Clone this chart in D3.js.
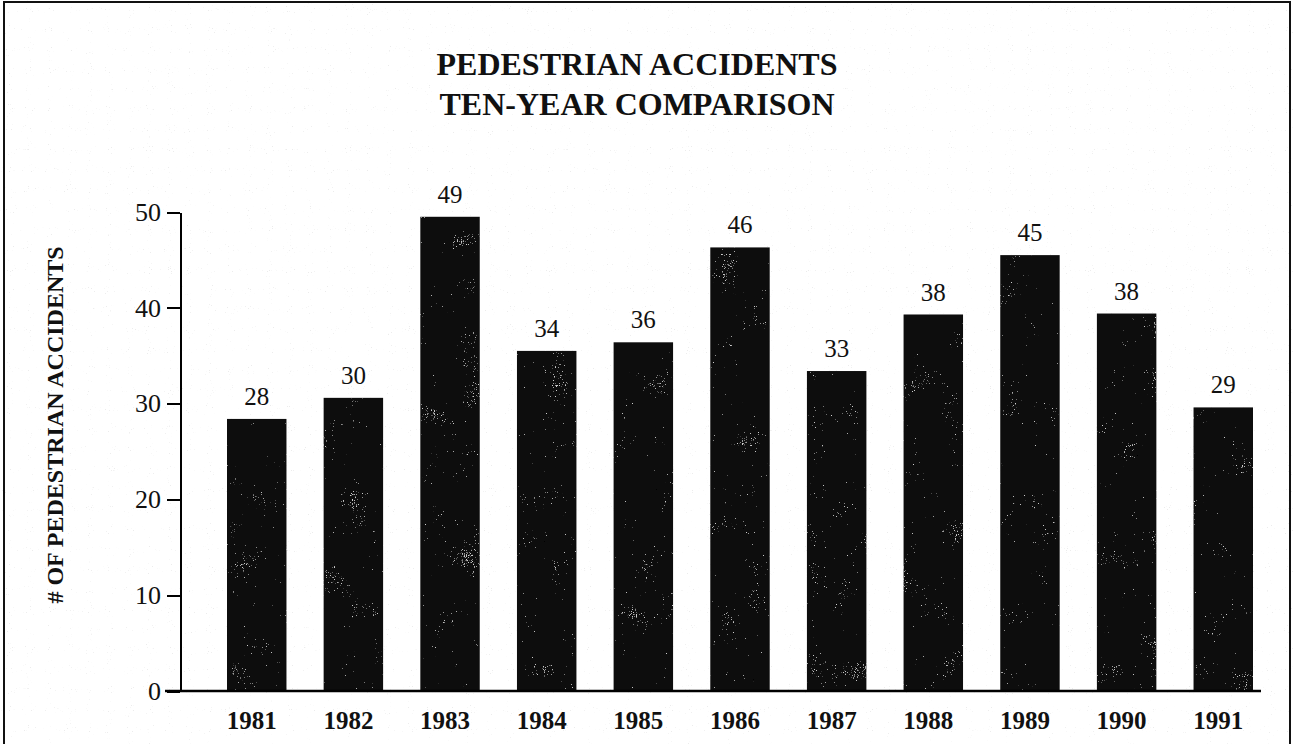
<!DOCTYPE html>
<meta charset="utf-8">
<style>

body {
  margin: 0;
  background: #fff;
}

svg {
  display: block;
}

text {
  font-family: "Liberation Serif", "Times New Roman", Times, serif;
}

.axis path,
.axis line {
  fill: none;
  stroke: #000;
  stroke-width: 2px;
  shape-rendering: crispEdges;
}

.axis text {
  font-family: "Liberation Serif", "Times New Roman", Times, serif;
  font-size: 26px;
  fill: #111;
}

.title {
  font-size: 32px;
  font-weight: bold;
  fill: #111;
}

.ylabel {
  font-size: 24px;
  font-weight: bold;
  fill: #111;
}

.year {
  font-size: 25px;
  font-weight: bold;
  fill: #111;
}

.value {
  font-size: 25px;
  fill: #111;
}

</style>
<body>
<svg width="1293" height="744"></svg>

<script src="https://d3js.org/d3.v7.min.js"></script>
<script>

// values
var years = ["1981", "1982", "1983", "1984", "1985", "1986", "1987", "1988", "1989", "1990", "1991"];
var counts = [28, 30, 49, 34, 36, 46, 33, 38, 45, 38, 29];
// the printed bars do not sit exactly on their labels, so heights are read separately
var barHeights = [28.4, 30.6, 49.5, 35.5, 36.4, 46.3, 33.4, 39.3, 45.5, 39.4, 29.6];
var yTicks = [0, 10, 20, 30, 40, 50];
var titleLines = ["PEDESTRIAN ACCIDENTS", "TEN-YEAR COMPARISON"];
var yTitle = "# OF PEDESTRIAN ACCIDENTS";

var data = years.map(function(y, i) {
  return {year: y, count: counts[i], height: barHeights[i]};
});

var svg = d3.select("svg");

var x = d3.scaleBand()
    .domain(years)
    .range([227, 1253])
    .paddingInner(0.385)
    .paddingOuter(0);

var y = d3.scaleLinear()
    .domain([0, 50])
    .range([691, 212]);

// scanner grain for bars and paper
var defs = svg.append("defs");

var grain = defs.append("filter")
    .attr("id", "grain")
    .attr("x", 0).attr("y", 0).attr("width", 1).attr("height", 1);
grain.append("feTurbulence")
    .attr("type", "fractalNoise")
    .attr("baseFrequency", 0.9)
    .attr("numOctaves", 2)
    .attr("seed", 4)
    .attr("result", "fine");
grain.append("feTurbulence")
    .attr("type", "fractalNoise")
    .attr("baseFrequency", 0.035)
    .attr("numOctaves", 1)
    .attr("seed", 9)
    .attr("result", "coarse");
grain.append("feComposite")
    .attr("in", "fine").attr("in2", "coarse")
    .attr("operator", "arithmetic")
    .attr("k1", 0).attr("k2", 0.8).attr("k3", 0.6).attr("k4", -0.3)
    .attr("result", "mix");
grain.append("feColorMatrix")
    .attr("in", "mix")
    .attr("type", "matrix")
    .attr("values", "0 0 0 0 0.62  0 0 0 0 0.62  0 0 0 0 0.62  8 0 0 0 -3.7")
    .attr("result", "dots");
grain.append("feComposite")
    .attr("in", "dots").attr("in2", "SourceGraphic")
    .attr("operator", "in")
    .attr("result", "dotsIn");
var merge = grain.append("feMerge");
merge.append("feMergeNode").attr("in", "SourceGraphic");
merge.append("feMergeNode").attr("in", "dotsIn");

var paper = defs.append("filter")
    .attr("id", "paper")
    .attr("x", 0).attr("y", 0).attr("width", 1).attr("height", 1);
paper.append("feTurbulence")
    .attr("type", "fractalNoise")
    .attr("baseFrequency", 0.95)
    .attr("numOctaves", 1)
    .attr("seed", 2)
    .attr("result", "n");
paper.append("feColorMatrix")
    .attr("in", "n")
    .attr("type", "matrix")
    .attr("values", "0 0 0 0 0.6  0 0 0 0 0.6  0 0 0 0 0.6  16 0 0 0 -11.4");

svg.append("rect")
    .attr("width", 1293)
    .attr("height", 744)
    .attr("fill", "#fff");

svg.append("rect")
    .attr("width", 1293)
    .attr("height", 744)
    .attr("fill", "#fff")
    .attr("filter", "url(#paper)")
    .attr("opacity", 0.35);

// frame round the whole figure
svg.append("rect")
    .attr("x", 4)
    .attr("y", 2)
    .attr("width", 1286)
    .attr("height", 780)
    .attr("fill", "none")
    .attr("stroke", "#111")
    .attr("stroke-width", 2);

svg.append("g")
    .selectAll("text")
    .data(titleLines)
  .enter().append("text")
    .attr("class", "title")
    .attr("x", 637)
    .attr("y", function(d, i) { return 75 + i * 40; })
    .attr("text-anchor", "middle")
    .text(function(d) { return d; });

svg.append("text")
    .attr("class", "ylabel")
    .attr("transform", "translate(63,425) rotate(-90)")
    .attr("text-anchor", "middle")
    .text(yTitle);

svg.append("g")
    .selectAll("rect")
    .data(data)
  .enter().append("rect")
    .attr("x", function(d) { return x(d.year); })
    .attr("y", function(d) { return y(d.height); })
    .attr("width", x.bandwidth())
    .attr("height", function(d) { return y(0) - y(d.height); })
    .attr("fill", "#0c0c0c")
    .attr("filter", "url(#grain)");

svg.append("g")
    .selectAll("text")
    .data(data)
  .enter().append("text")
    .attr("class", "value")
    .attr("x", function(d) { return x(d.year) + x.bandwidth() / 2; })
    .attr("y", function(d) { return y(d.height) - 14; })
    .attr("text-anchor", "middle")
    .text(function(d) { return d.count; });

svg.append("g")
    .attr("class", "axis axis--y")
    .attr("transform", "translate(180,0)")
    .call(d3.axisLeft(y).tickValues(yTicks).tickSize(13).tickSizeOuter(0).tickPadding(6));

svg.append("line")
    .attr("class", "baseline")
    .attr("x1", 165)
    .attr("x2", 1261)
    .attr("y1", y(0))
    .attr("y2", y(0))
    .attr("stroke", "#000")
    .attr("stroke-width", 2.5);

svg.append("g")
    .selectAll("text")
    .data(years)
  .enter().append("text")
    .attr("class", "year")
    .attr("x", function(d) { return x(d) + x.bandwidth() / 2 - 5; })
    .attr("y", 729)
    .attr("text-anchor", "middle")
    .text(function(d) { return d; });

</script>
</body>
